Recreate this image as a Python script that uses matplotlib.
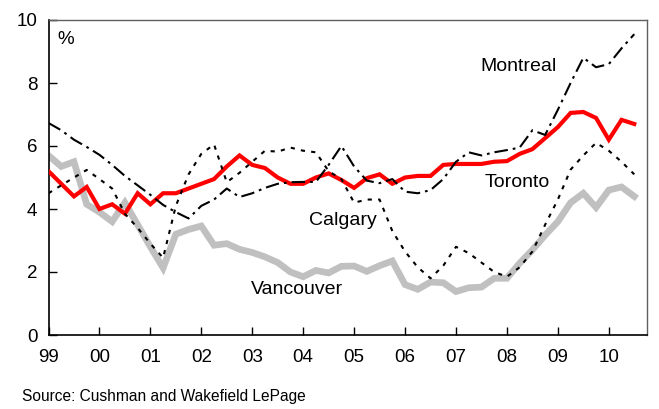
import numpy as np
import matplotlib
matplotlib.use("Agg")
import matplotlib.pyplot as plt

plt.rcParams['font.family'] = ['Liberation Sans', 'DejaVu Sans']

start_year = 1999  # first quarter: 1999 Q1, quarterly data

toronto = [5.2, 4.8, 4.4, 4.7, 4.0, 4.15, 3.85, 4.5, 4.15, 4.5, 4.5, 4.65, 4.8, 4.95, 5.35, 5.7,
           5.4, 5.3, 5.0, 4.8, 4.8, 5.0, 5.13, 4.92, 4.67, 4.98, 5.1, 4.8, 5.0, 5.05, 5.05, 5.4,
           5.43, 5.43, 5.43, 5.5, 5.52, 5.75, 5.9, 6.25, 6.6, 7.05, 7.08, 6.89, 6.2, 6.83, 6.7]
vancouver = [5.7, 5.35, 5.5, 4.15, 3.9, 3.6, 4.2, 3.5, 2.8, 2.13, 3.2, 3.35, 3.46, 2.85, 2.9, 2.72,
             2.62, 2.48, 2.3, 2.0, 1.85, 2.05, 1.97, 2.18, 2.19, 2.02, 2.2, 2.35, 1.6, 1.45, 1.68, 1.66,
             1.38, 1.5, 1.52, 1.8, 1.8, 2.28, 2.7, 3.17, 3.6, 4.2, 4.5, 4.05, 4.6, 4.7, 4.4]
montreal = [6.73, 6.5, 6.2, 5.97, 5.72, 5.4, 5.05, 4.75, 4.45, 4.13, 3.9, 3.7, 4.1, 4.3, 4.65, 4.38,
            4.5, 4.67, 4.8, 4.85, 4.86, 4.86, 5.4, 6.0, 5.35, 4.9, 4.82, 4.95, 4.55, 4.5, 4.6, 4.95,
            5.5, 5.8, 5.7, 5.8, 5.87, 5.95, 6.5, 6.35, 7.15, 8.0, 8.8, 8.5, 8.6, 9.1, 9.55]
calgary = [4.5, 4.75, 5.0, 5.24, 4.95, 4.65, 3.85, 3.4, 2.9, 2.45, 4.1, 5.1, 5.75, 6.05, 4.85, 5.15,
           5.5, 5.85, 5.82, 5.95, 5.85, 5.8, 5.2, 4.95, 4.2, 4.3, 4.3, 3.3, 2.65, 2.15, 1.8, 2.2,
           2.8, 2.6, 2.3, 2.0, 1.85, 2.15, 2.65, 3.5, 4.3, 5.25, 5.7, 6.1, 5.85, 5.5, 5.1]

year_labels = ['99', '00', '01', '02', '03', '04', '05', '06', '07', '08', '09', '10']
y_ticks = [0, 2, 4, 6, 8, 10]
source_text = 'Source: Cushman and Wakefield LePage'

x = start_year + np.arange(len(toronto)) / 4.0

fig = plt.figure(figsize=(6.59, 4.09), dpi=100)
ax = fig.add_axes([48.5 / 659, 1 - 335 / 409, (647 - 48.5) / 659, (335 - 20) / 409])

ax.plot(x, vancouver, color='#c0c0c0', lw=4.8, solid_joinstyle='miter', zorder=2)
ax.plot(x, toronto, color='#ff0000', lw=3.0, solid_joinstyle='miter', zorder=3)
ax.plot(x, montreal, color='black', lw=1.5, dashes=(6.5, 2.4, 1.3, 2.4), zorder=4)
ax.plot(x, calgary, color='black', lw=1.5, dashes=(2.0, 3.0), zorder=4)

ax.set_xlim(start_year, start_year + 11.75)
ax.set_ylim(0, 10)
ticks_x = start_year + np.arange(len(year_labels))
ax.set_xticks(ticks_x)
ax.set_xticklabels(year_labels)
ax.set_yticks(y_ticks)
ax.set_yticklabels([str(v) for v in y_ticks])
ax.tick_params(axis='both', direction='in', length=6, width=1, labelsize=13.5, colors='black')
ax.tick_params(axis='x', pad=10)
ax.tick_params(axis='y', pad=8)
for side in ['left', 'bottom']:
    ax.spines[side].set_color('black')
    ax.spines[side].set_linewidth(1.2)
for side in ['top', 'right']:
    ax.spines[side].set_color('#606060')
    ax.spines[side].set_linewidth(1.0)

ax.text(start_year + 0.17, 9.37, '%', fontsize=13.5, va='center', ha='left')
ax.text(2008.22, 8.51, 'Montreal', fontsize=14, ha='center', va='center')
ax.text(2008.2, 4.83, 'Toronto', fontsize=14, ha='center', va='center')
ax.text(2004.78, 3.65, 'Calgary', fontsize=14, ha='center', va='center')
ax.text(2003.87, 1.43, 'Vancouver', fontsize=14, ha='center', va='center')

fig.text(22 / 659, 1 - 396 / 409, source_text, fontsize=11.2, ha='left', va='center')

fig.savefig('out.png', dpi=100)
